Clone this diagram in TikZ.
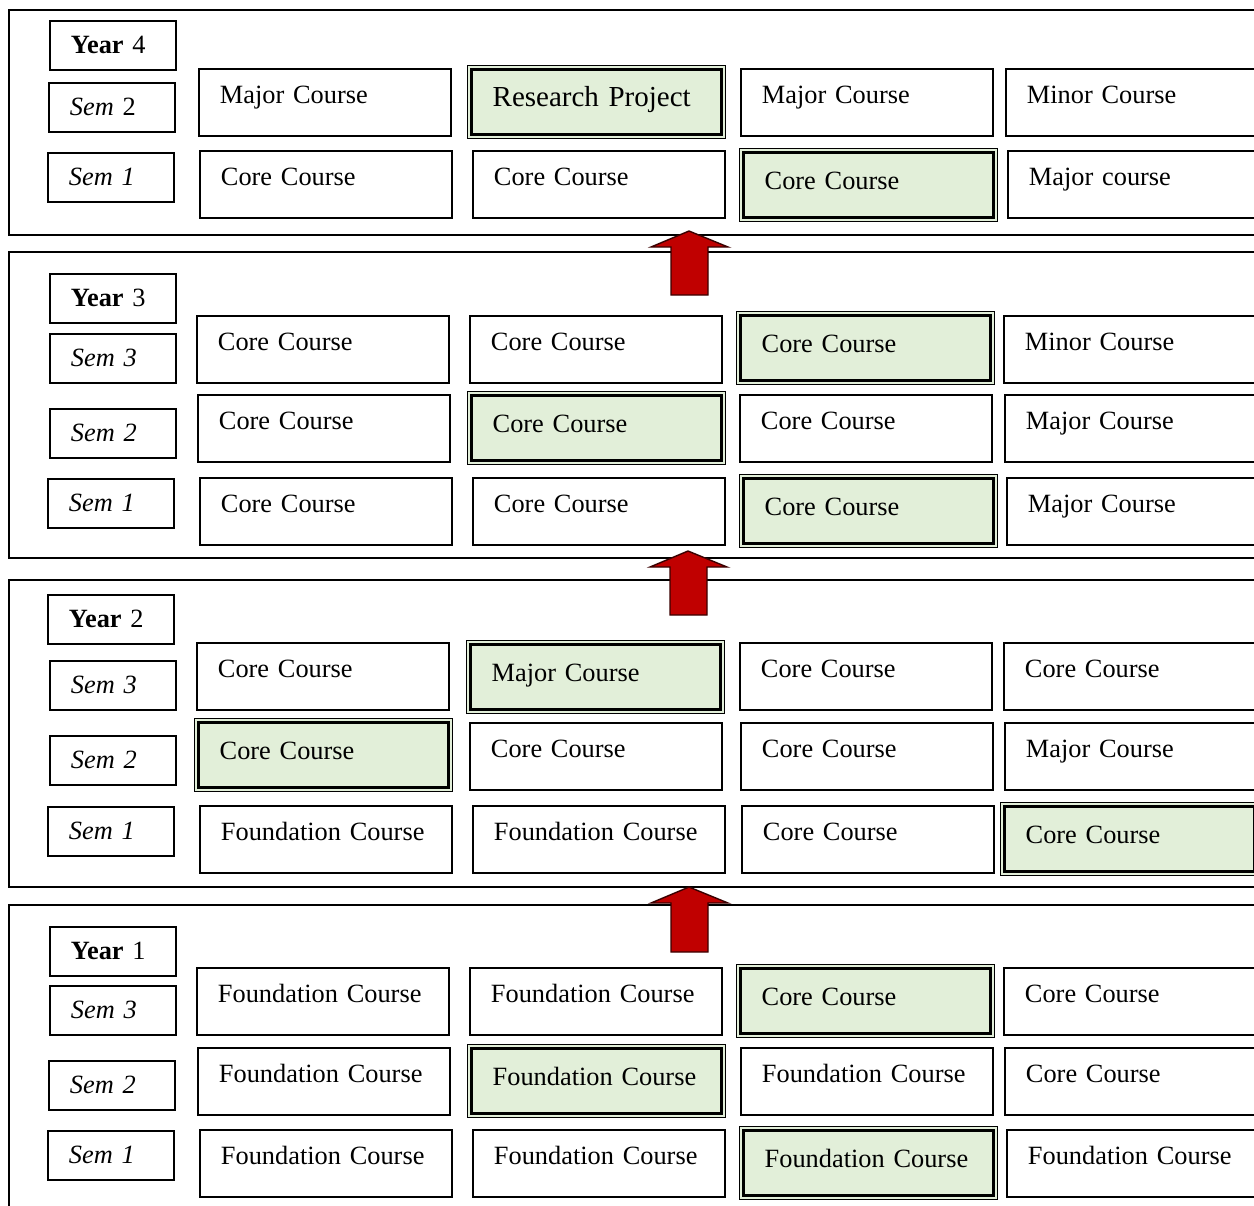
\documentclass[tikz,border=0pt]{standalone}
\usepackage{fontspec}
\setmainfont{Liberation Serif}
\usepackage{tikz}
\usetikzlibrary{positioning}
\newcommand{\coursefont}{\fontsize{15}{18}\selectfont}
\newcommand{\projectfont}{\fontsize{16.5}{20}\selectfont}
\definecolor{keygreen}{RGB}{226,239,217}
\definecolor{arrowred}{RGB}{192,0,0}
\tikzset{year panel/.style={draw=black, line width=1.1pt}}
\tikzset{course/.style={draw=black, line width=1.1pt, anchor=north west, inner xsep=0.42cm, inner ysep=0pt,
    text width=4.2cm, align=left, text height=0.70cm, text depth=0.64cm, font=\coursefont}}
\tikzset{key course/.style={course, fill=keygreen, line width=0.8pt, inner xsep=0.5cm, text width=4.16cm,
    text height=0.82cm, text depth=0.64cm,
    path picture={\draw [line width=1.7pt] ([shift={(2.4pt,-2.4pt)}]path picture bounding box.north west)
      rectangle ([shift={(-2.4pt,2.4pt)}]path picture bounding box.south east);}}}
\tikzset{sem label/.style={draw=black, line width=1.1pt, anchor=north west, inner xsep=0.42cm, inner ysep=0pt,
    text width=1.68cm, align=left, text height=0.66cm, text depth=0.32cm, font=\coursefont}}
\tikzset{up arrow/.style={draw=black!70!arrowred, line width=0.8pt, fill=arrowred, line join=miter}}

\begin{document}
\begin{tikzpicture}[x=0.02cm, y=-0.02cm]
  \useasboundingbox (0,0) rectangle (1254,1205);
  \clip (0,0) rectangle (1254,1205);

  \draw [year panel] (9,10)  rectangle (1275,235);
  \draw [year panel] (9,252) rectangle (1275,558);
  \draw [year panel] (9,580) rectangle (1275,887);
  \draw [year panel] (9,905) rectangle (1275,1240);

  \node [sem label]  (y4)    at (49,20)    {\textbf{Year} 4};
  \node [sem label]  (y4s2)  at (48,82)    {\textit{Sem} 2};
  \node [sem label]  (y4s1)  at (47,152)   {\textit{Sem 1}};
  \node [course]     (y4s2a) at (198,68)   {Major Course};
  \node [key course, font=\projectfont] (y4s2b) at (467,65) {Research Project};
  \node [course]     (y4s2c) at (740,68)   {Major Course};
  \node [course]     (y4s2d) at (1005,68)  {Minor Course};
  \node [course]     (y4s1a) at (199,150)  {Core Course};
  \node [course]     (y4s1b) at (472,150)  {Core Course};
  \node [key course] (y4s1c) at (739,148)  {Core Course};
  \node [course]     (y4s1d) at (1007,150) {Major course};

  \node [sem label]  (y3)    at (49,273)   {\textbf{Year} 3};
  \node [sem label]  (y3s3)  at (49,333)   {\textit{Sem 3}};
  \node [sem label]  (y3s2)  at (49,408)   {\textit{Sem 2}};
  \node [sem label]  (y3s1)  at (47,478)   {\textit{Sem 1}};
  \node [course]     (y3s3a) at (196,315)  {Core Course};
  \node [course]     (y3s3b) at (469,315)  {Core Course};
  \node [key course] (y3s3c) at (736,311)  {Core Course};
  \node [course]     (y3s3d) at (1003,315) {Minor Course};
  \node [course]     (y3s2a) at (197,394)  {Core Course};
  \node [key course] (y3s2b) at (467,391)  {Core Course};
  \node [course]     (y3s2c) at (739,394)  {Core Course};
  \node [course]     (y3s2d) at (1004,394) {Major Course};
  \node [course]     (y3s1a) at (199,477)  {Core Course};
  \node [course]     (y3s1b) at (472,477)  {Core Course};
  \node [key course] (y3s1c) at (739,474)  {Core Course};
  \node [course]     (y3s1d) at (1006,477) {Major Course};

  \node [sem label]  (y2)    at (47,594)   {\textbf{Year} 2};
  \node [sem label]  (y2s3)  at (49,660)   {\textit{Sem 3}};
  \node [sem label]  (y2s2)  at (49,735)   {\textit{Sem 2}};
  \node [sem label]  (y2s1)  at (47,806)   {\textit{Sem 1}};
  \node [course]     (y2s3a) at (196,642)  {Core Course};
  \node [key course] (y2s3b) at (466,640)  {Major Course};
  \node [course]     (y2s3c) at (739,642)  {Core Course};
  \node [course]     (y2s3d) at (1003,642) {Core Course};
  \node [key course] (y2s2a) at (194,718)  {Core Course};
  \node [course]     (y2s2b) at (469,722)  {Core Course};
  \node [course]     (y2s2c) at (740,722)  {Core Course};
  \node [course]     (y2s2d) at (1004,722) {Major Course};
  \node [course]     (y2s1a) at (199,805)  {Foundation Course};
  \node [course]     (y2s1b) at (472,805)  {Foundation Course};
  \node [course]     (y2s1c) at (741,805)  {Core Course};
  \node [key course] (y2s1d) at (1000,802) {Core Course};

  \node [sem label]  (y1)    at (49,926)   {\textbf{Year} 1};
  \node [sem label]  (y1s3)  at (49,985)   {\textit{Sem 3}};
  \node [sem label]  (y1s2)  at (48,1060)  {\textit{Sem 2}};
  \node [sem label]  (y1s1)  at (47,1130)  {\textit{Sem 1}};
  \node [course]     (y1s3a) at (196,967)  {Foundation Course};
  \node [course]     (y1s3b) at (469,967)  {Foundation Course};
  \node [key course] (y1s3c) at (736,964)  {Core Course};
  \node [course]     (y1s3d) at (1003,967) {Core Course};
  \node [course]     (y1s2a) at (197,1047) {Foundation Course};
  \node [key course] (y1s2b) at (467,1044) {Foundation Course};
  \node [course]     (y1s2c) at (740,1047) {Foundation Course};
  \node [course]     (y1s2d) at (1004,1047) {Core Course};
  \node [course]     (y1s1a) at (199,1129) {Foundation Course};
  \node [course]     (y1s1b) at (472,1129) {Foundation Course};
  \node [key course] (y1s1c) at (739,1126) {Foundation Course};
  \node [course]     (y1s1d) at (1006,1129) {Foundation Course};

  \draw [up arrow] (671,295) -- (671,247) -- (651,247) -- (689,231) -- (728,247) -- (708,247) -- (708,295) -- cycle;
  \draw [up arrow] (670,615) -- (670,567) -- (650,567) -- (688,551) -- (727,567) -- (707,567) -- (707,615) -- cycle;
  \draw [up arrow] (671,952) -- (671,903) -- (651,903) -- (689,887) -- (728,903) -- (708,903) -- (708,952) -- cycle;
\end{tikzpicture}
\end{document}
